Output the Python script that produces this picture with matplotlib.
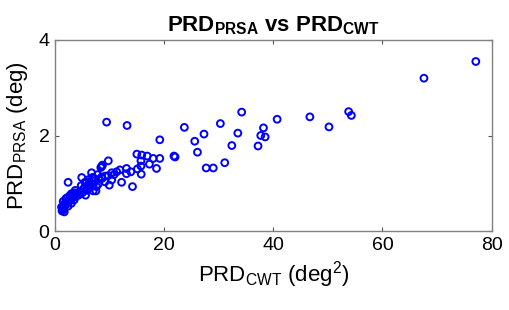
import matplotlib
matplotlib.use("Agg")
import matplotlib.pyplot as plt

plt.rcParams['font.family'] = ['Liberation Sans', 'DejaVu Sans']
plt.rcParams['mathtext.fontset'] = 'custom'
plt.rcParams['mathtext.rm'] = 'Liberation Sans'
plt.rcParams['mathtext.bf'] = 'Liberation Sans:bold'

prd_cwt = [
    77.1, 67.6, 54.3, 53.8, 50.2, 46.7, 40.7, 38.2, 37.7, 38.5, 37.2,
    34.2, 33.5, 32.4, 31.1, 30.3, 29.0, 27.7, 27.3, 26.1, 25.6, 23.7,
    22.0, 21.8, 19.2, 19.2, 18.6, 18.0, 17.3, 16.9, 15.9, 15.8, 15.75, 15.75, 15.1, 15.0,
    14.2, 13.9, 13.2, 13.1, 13.1, 12.2, 11.9, 11.3, 10.4, 10.4, 9.95, 9.77, 9.77,
    9.46, 9.16, 8.7, 8.55, 8.4, 8.55, 7.9, 7.5, 7.0, 6.9, 6.7, 6.35, 5.8, 5.6, 4.9,
    4.6, 3.7, 3.3, 2.4,
    1.3, 1.4, 1.5, 1.6, 1.8, 2.0, 2.2, 2.5, 2.8, 3.0, 3.2, 3.5, 3.8, 4.0, 4.3,
    4.6, 5.0, 5.2, 5.5, 5.8, 6.0, 6.3, 6.6, 7.0, 7.3, 7.6, 8.0, 2.7, 3.6, 4.8,
    5.5, 6.2, 7.0, 7.8, 1.5, 2.0, 2.4, 3.0, 1.2, 1.7, 2.3, 8.6, 9.2, 10.8,
]
prd_prsa = [
    3.55, 3.20, 2.42, 2.50, 2.18, 2.39, 2.34, 2.16, 2.00, 1.97, 1.78,
    2.49, 2.05, 1.79, 1.43, 2.25, 1.32, 1.32, 2.03, 1.65, 1.88, 2.17,
    1.55, 1.57, 1.91, 1.52, 1.31, 1.52, 1.40, 1.57, 1.59, 1.19, 1.47, 1.36, 1.30, 1.61,
    0.93, 1.24, 2.21, 1.31, 1.20, 1.02, 1.28, 1.24, 1.22, 1.07, 0.96, 1.47, 1.16,
    2.28, 1.03, 1.38, 1.35, 1.33, 1.13, 0.98, 0.84, 0.84, 1.12, 1.22, 0.94, 1.03, 0.75, 1.12,
    0.82, 0.85, 0.75, 1.02,
    0.42, 0.47, 0.52, 0.45, 0.58, 0.55, 0.62, 0.60, 0.66, 0.58, 0.70, 0.65, 0.72, 0.78, 0.75,
    0.82, 0.80, 0.88, 0.92, 0.85, 0.95, 0.90, 1.00, 0.97, 1.05, 0.93, 1.08, 0.74, 0.80, 0.95,
    1.02, 1.08, 1.12, 1.18, 0.62, 0.68, 0.52, 0.78, 0.50, 0.40, 0.70, 1.10, 1.15, 1.18,
]

x_ticks = [0, 20, 40, 60, 80]
y_ticks = [0, 2, 4]

fig = plt.figure(figsize=(5.1, 3.1), dpi=100)
ax = fig.add_axes([0.1078, 0.2548, 0.8562, 0.6162])
ax.scatter(prd_cwt, prd_prsa, s=24, facecolors='none', edgecolors='#0000FF', linewidths=1.4)
ax.set_xlim(0, 80)
ax.set_ylim(0, 4)
ax.set_xticks(x_ticks)
ax.set_yticks(y_ticks)
ax.tick_params(direction='in', length=3, width=0.8, color='#555555', labelsize=14,
               top=True, right=True, pad=4)
for s in ax.spines.values():
    s.set_color('#808080')
    s.set_linewidth(1.0)
ax.set_xlabel(r'PRD$_{\mathrm{CWT}}$ (deg$^{2}$)', fontsize=16, labelpad=4)
ax.set_ylabel(r'PRD$_{\mathrm{PRSA}}$ (deg)', fontsize=16, labelpad=6)
ax.set_title(r'$\mathbf{PRD}_{\mathbf{PRSA}}$ vs $\mathbf{PRD}_{\mathbf{CWT}}$',
             fontsize=16, fontweight='bold', pad=6)
fig.savefig('out.png', dpi=100)
